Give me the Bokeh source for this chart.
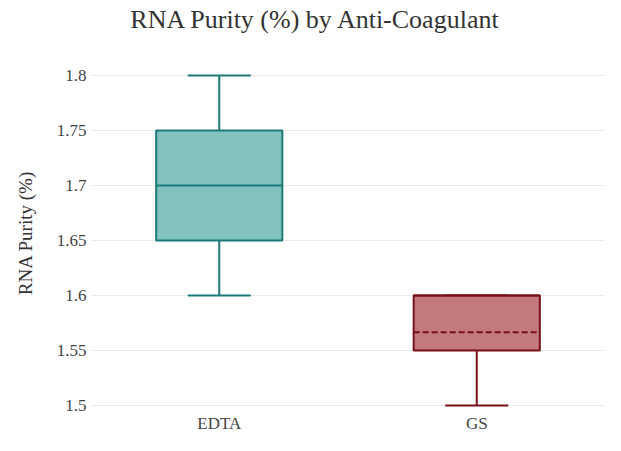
from bokeh.plotting import figure
from bokeh.models import ColumnDataSource, FactorRange, Range1d, Div
from bokeh.layouts import column
from bokeh.transform import dodge
from bokeh.embed import file_html
from bokeh.resources import INLINE

# ---- data ----
categories = ["EDTA", "GS"]
lower = [1.60, 1.50]
q1 = [1.65, 1.55]
median = [1.70, 1.60]
q3 = [1.75, 1.60]
upper = [1.80, 1.60]
mean = [1.70, 1.5667]
y_ticks = [1.5, 1.55, 1.6, 1.65, 1.7, 1.75, 1.8]
y_tick_labels = ["1.5", "1.55", "1.6", "1.65", "1.7", "1.75", "1.8"]
title_text = "RNA Purity (%) by Anti-Coagulant"

line_colors = ["#1b7a78", "#761016"]
fill_colors = ["#82c3c0", "#c27a7c"]

BOX_W = 0.49
CAP_W = BOX_W / 2
SERIF = "Liberation Serif"

title = Div(text=title_text, width=605, height=40, margin=(0, 0, 0, 0),
            styles={"font-family": SERIF, "font-size": "26px", "color": "#333333",
                    "line-height": "40px", "text-align": "center",
                    "padding-left": "24px", "box-sizing": "border-box",
                    "width": "605px", "white-space": "nowrap"})

p = figure(
    width=605, height=395,
    x_range=FactorRange(*categories, range_padding=0),
    y_range=Range1d(1.4964, 1.8173),
    output_backend="svg", toolbar_location=None,
    min_border_left=90, min_border_right=0, min_border_top=16, min_border_bottom=0,
    background_fill_color="white", border_fill_color="white",
)
p.outline_line_color = None

src = ColumnDataSource(dict(
    cat=categories, lower=lower, q1=q1, median=median, q3=q3, upper=upper,
    mean=mean, lc=line_colors, fc=fill_colors,
))
# mean line only where it is distinguishable from the median
mi = [i for i in range(len(categories)) if abs(mean[i] - median[i]) > 1e-9]
mean_src = ColumnDataSource(dict(
    cat=[categories[i] for i in mi], mean=[mean[i] for i in mi],
    lc=[line_colors[i] for i in mi],
))

# whiskers
p.segment(x0="cat", y0="q3", x1="cat", y1="upper", source=src, line_color="lc", line_width=2)
p.segment(x0="cat", y0="q1", x1="cat", y1="lower", source=src, line_color="lc", line_width=2)
# caps
p.segment(x0=dodge("cat", -CAP_W / 2, range=p.x_range), y0="upper",
          x1=dodge("cat", CAP_W / 2, range=p.x_range), y1="upper",
          source=src, line_color="lc", line_width=2)
p.segment(x0=dodge("cat", -CAP_W / 2, range=p.x_range), y0="lower",
          x1=dodge("cat", CAP_W / 2, range=p.x_range), y1="lower",
          source=src, line_color="lc", line_width=2)
# boxes
p.vbar(x="cat", width=BOX_W, top="q3", bottom="q1", source=src,
       fill_color="fc", line_color="lc", line_width=2)
# median
p.segment(x0=dodge("cat", -BOX_W / 2, range=p.x_range), y0="median",
          x1=dodge("cat", BOX_W / 2, range=p.x_range), y1="median",
          source=src, line_color="lc", line_width=2)
# mean (dashed)
p.segment(x0=dodge("cat", -BOX_W / 2, range=p.x_range), y0="mean",
          x1=dodge("cat", BOX_W / 2, range=p.x_range), y1="mean",
          source=mean_src, line_color="lc", line_width=2, line_dash="6 3")

# axes
p.yaxis.ticker = y_ticks
p.yaxis.major_label_overrides = {v: s for v, s in zip(y_ticks, y_tick_labels)}
p.yaxis.axis_label = "RNA Purity (%)"
p.yaxis.axis_label_text_font = SERIF
p.yaxis.axis_label_text_font_size = "19px"
p.yaxis.axis_label_text_font_style = "normal"
p.yaxis.axis_label_text_color = "#333333"
p.yaxis.axis_label_standoff = 18
for ax in (p.xaxis, p.yaxis):
    ax.axis_line_color = None
    ax.major_tick_line_color = None
    ax.minor_tick_line_color = None
    ax.major_tick_out = 0
    ax.major_tick_in = 0
    ax.major_label_text_font = SERIF
    ax.major_label_text_font_size = "17px"
    ax.major_label_text_color = "#444444"
p.yaxis.major_label_standoff = 4
p.xaxis.major_label_standoff = 4

p.xgrid.grid_line_color = None
p.ygrid.grid_line_color = "#ebebeb"
p.ygrid.grid_line_width = 1

layout = column(title, p, spacing=0)
open("out.html", "w").write(file_html(layout, INLINE))
